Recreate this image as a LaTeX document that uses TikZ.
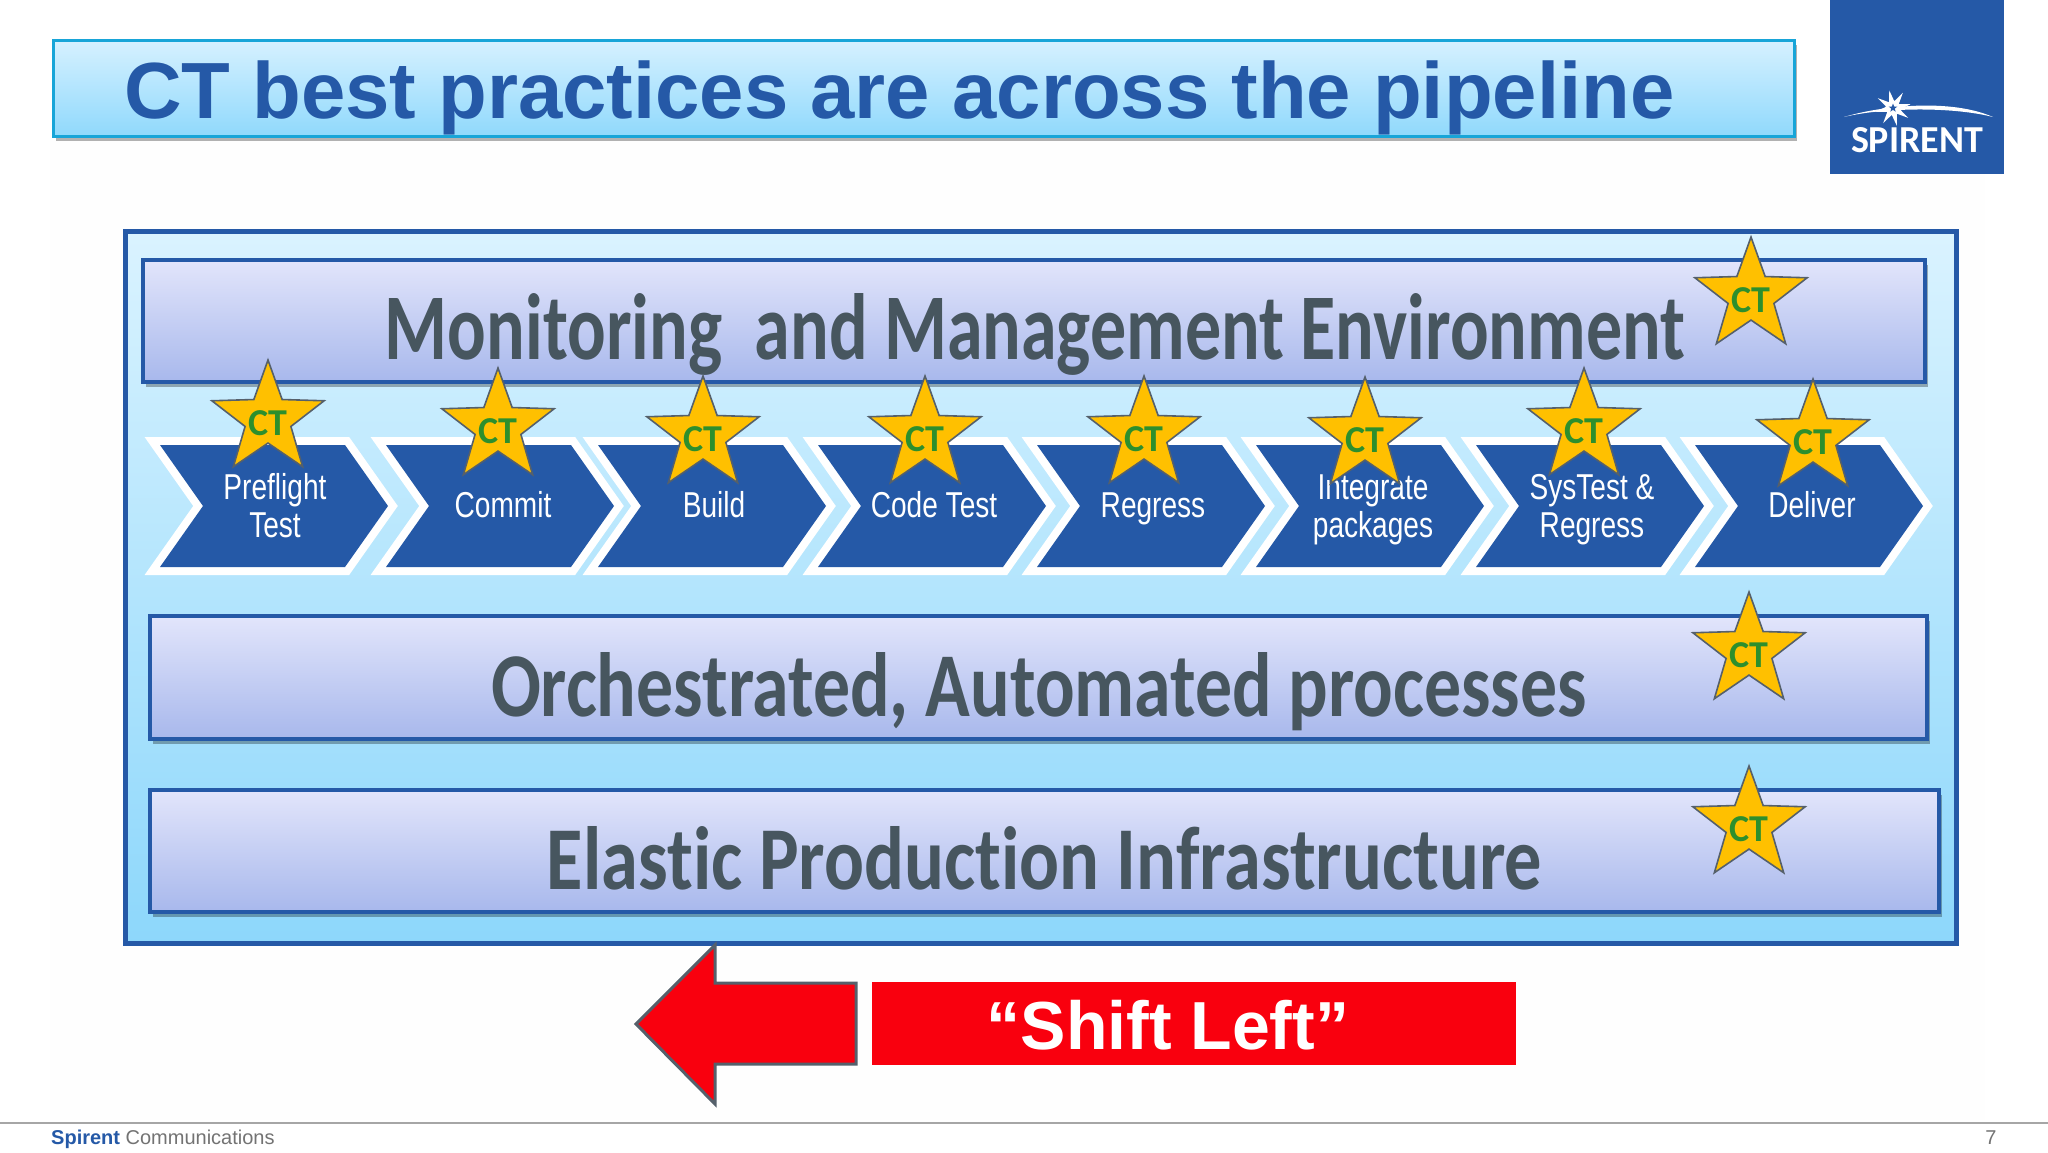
\documentclass[tikz,border=0pt]{standalone}
\usepackage{fontspec}
\setmainfont{Liberation Sans}
\newfontfamily\carl[Ligatures=NoCommon]{Carlito}
\usetikzlibrary{shapes.geometric,shadows,fadings,calc}
\definecolor{brandblue}{HTML}{2559A7}
\definecolor{titleedge}{HTML}{18A5D8}
\definecolor{goldstar}{HTML}{FFC000}
\definecolor{ctgreen}{HTML}{2D8F2D}
\definecolor{bartext}{HTML}{47565F}
\definecolor{flagred}{HTML}{F9000E}
\definecolor{arrowedge}{HTML}{55606B}
\definecolor{titleT}{HTML}{D6F1FF}
\definecolor{titleB}{HTML}{90D9FC}
\definecolor{barT}{HTML}{E2E5FB}
\definecolor{barB}{HTML}{A8B8EC}
\definecolor{panelT}{HTML}{DAF3FF}
\definecolor{panelB}{HTML}{8DD7FB}
\tikzset{
  softshadow/.style={general shadow={shadow xshift=3pt,shadow yshift=-5pt,fill=black,opacity=.3}},
  titlebox/.style={draw=titleedge,line width=3pt,top color=titleT,bottom color=titleB,softshadow},
  barbox/.style={draw=brandblue,line width=4pt,top color=barT,bottom color=barB,softshadow},
  ctstar/.style={star,star points=5,star point ratio=2.45,minimum size=118pt,inner sep=0pt,
    fill=goldstar,draw=arrowedge,line width=1.6pt,text=ctgreen,
    font=\carl\bfseries\fontsize{38}{38}\selectfont},
  bartextnode/.style={anchor=base,inner sep=0pt,text=bartext,font=\carl\bfseries\fontsize{60}{60}\selectfont},
  steptext/.style={inner sep=0pt,text=white,font=\fontsize{36}{38}\selectfont},
}
\newcommand{\squeezed}[1]{\scalebox{.78}[1]{\begin{tabular}{@{}c@{}}#1\end{tabular}}}
\newcommand{\ctmark}{\raisebox{-16pt}[0pt][0pt]{\makebox[0pt]{CT}}}
\begin{document}
\begin{tikzpicture}[x=1pt,y=-1pt]
\useasboundingbox (0,0) rectangle (2048,1152);
\fill[white] (0,0) rectangle (2048,1152);
\fill[black!0.5] (50,140) rectangle (1985,1120);
% title
\node[titlebox,minimum width=1741pt,minimum height=96pt,inner sep=0pt] (titlebar) at (923.5,88) {};
\node[inner sep=0pt,anchor=base west,text=brandblue,font=\bfseries\fontsize{79.7}{80}\selectfont] (titletext) at (124,118) {CT best practices are across the pipeline};
% logo
\fill[brandblue] (1830,0) rectangle (2004,174);
\fill[white] (1844,117) .. controls (1880,106) and (1950,98) .. (1993,117) .. controls (1950,106) and (1880,108) .. cycle;
\node[star,star points=8,star point ratio=2.6,minimum size=36pt,inner sep=0pt,fill=white,rotate=12] (burst) at (1893,108) {};
\node[star,star points=5,star point ratio=2.4,minimum size=9pt,inner sep=0pt,fill=brandblue] (burstcore) at (1893,108) {};
\node[inner sep=0pt,anchor=base,text=white] (logotext) at (1917,152) {\resizebox{132pt}{25pt}{\carl\bfseries SPIRENT}};
% panel
\node[draw=brandblue,line width=5pt,top color=panelT,bottom color=panelB,minimum width=1831pt,minimum height=712pt,inner sep=0pt] (panel) at (1040.5,587) {};
% bars
\node[barbox,minimum width=1782pt,minimum height=122pt,inner sep=0pt] (monbar) at (1034,321) {};
\node[barbox,minimum width=1777pt,minimum height=123pt,inner sep=0pt] (orchbar) at (1038.5,677.5) {};
\node[barbox,minimum width=1789pt,minimum height=122pt,inner sep=0pt] (elasbar) at (1044.5,851) {};
\node[bartextnode] (montext) at (1035,359) {\resizebox{1300pt}{66pt}{Monitoring\ \ and Management Environment}};
\node[bartextnode] (orchtext) at (1039,716) {\resizebox{1096pt}{64pt}{Orchestrated, Automated processes}};
\node[bartextnode] (elastext) at (1044.5,889) {\resizebox{995pt}{63pt}{Elastic Production Infrastructure}};
% chevrons
\foreach \n/\x in {1/160,2/386,3/598,4/818,5/1037,6/1256,7/1476,8/1695}{
  \draw[white,line width=16pt,miter limit=10,line join=miter]
    (\x,445) -- ++(185,0) -- ++(43,61) -- ++(-43,61) -- ++(-185,0) -- ++(43,-61) -- cycle;
  \fill[brandblue]
    (\x,445) -- ++(185,0) -- ++(43,61) -- ++(-43,61) -- ++(-185,0) -- ++(43,-61) -- cycle;
}
\node[steptext] (s1) at (275,511) {\squeezed{Preflight\\Test}};
\node[steptext] (s2) at (503,510) {\squeezed{Commit}};
\node[steptext] (s3) at (714,510) {\squeezed{Build}};
\node[steptext] (s4) at (934,510) {\squeezed{Code Test}};
\node[steptext] (s5) at (1153,510) {\squeezed{Regress}};
\node[steptext] (s6) at (1373,511) {\squeezed{Integrate\\packages}};
\node[steptext] (s7) at (1592,511) {\squeezed{SysTest \&\\Regress}};
\node[steptext] (s8) at (1812,510) {\squeezed{Deliver}};
% stars
\node[ctstar] (c1) at (268,419) {\ctmark};
\node[ctstar] (c2) at (498,427) {\ctmark};
\node[ctstar] (c3) at (703,435) {\ctmark};
\node[ctstar] (c4) at (925,435) {\ctmark};
\node[ctstar] (c5) at (1144,435) {\ctmark};
\node[ctstar] (c6) at (1365,436) {\ctmark};
\node[ctstar] (c7) at (1584,427) {\ctmark};
\node[ctstar] (c8) at (1813,438) {\ctmark};
\node[ctstar] (c9) at (1751,296) {\ctmark};
\node[ctstar] (c10) at (1749,651) {\ctmark};
\node[ctstar] (c11) at (1749,825) {\ctmark};
% shift left
\draw[fill=flagred,draw=arrowedge,line width=3pt,line join=miter]
  (636,1024) -- (715,945) -- (715,983) -- (856,983) -- (856,1064) -- (715,1064) -- (715,1104) -- cycle;
\node[fill=flagred,minimum width=644pt,minimum height=83pt,inner sep=0pt] (shiftbox) at (1194,1023.5) {};
\node[inner sep=0pt,text=white,anchor=base,font=\bfseries\fontsize{68}{68}\selectfont] (shifttext) at (1168,1049) {“Shift Left”};
% footer
\draw[black!35,line width=1.5pt] (0,1123) -- (2048,1123);
\node[inner sep=0pt,anchor=base west,font=\fontsize{20}{20}\selectfont,text=black!55] (footer) at (51,1144) {{\bfseries\color{brandblue}Spirent} Communications};
\node[inner sep=0pt,anchor=base,font=\fontsize{20}{20}\selectfont,text=black!55] (pageno) at (1991,1144) {7};
\end{tikzpicture}
\end{document}
